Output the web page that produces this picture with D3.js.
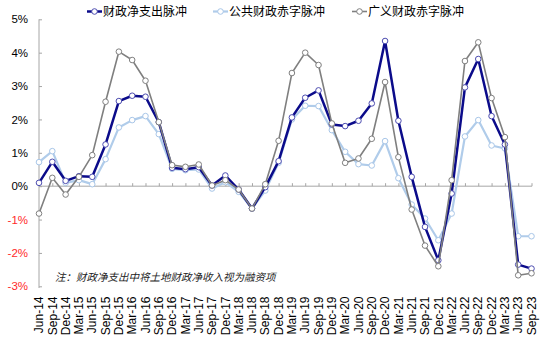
<!DOCTYPE html>
<html><head><meta charset="utf-8">
<script src="https://cdn.jsdelivr.net/npm/d3@7"></script>
<style>
html,body{margin:0;padding:0;background:#fff;}
svg{display:block;}
</style>
</head><body>
<svg id="chart" width="550" height="339"></svg>
<script>
const categories = ["Jun-14","Sep-14","Dec-14","Mar-15","Jun-15","Sep-15","Dec-15","Mar-16","Jun-16","Sep-16","Dec-16","Mar-17","Jun-17","Sep-17","Dec-17","Mar-18","Jun-18","Sep-18","Dec-18","Mar-19","Jun-19","Sep-19","Dec-19","Mar-20","Jun-20","Sep-20","Dec-20","Mar-21","Jun-21","Sep-21","Dec-21","Mar-22","Jun-22","Sep-22","Dec-22","Mar-23","Jun-23","Sep-23"];
const netSpending = [0.10,0.73,0.16,0.30,0.28,1.25,2.55,2.71,2.68,1.92,0.55,0.51,0.57,0.02,0.32,-0.10,-0.67,-0.03,0.75,2.06,2.65,2.87,1.85,1.80,1.96,2.48,4.35,1.96,0.28,-1.22,-2.22,-0.22,2.96,3.81,2.10,1.25,-2.35,-2.47];
const publicDeficit = [0.72,1.05,0.10,0.18,0.06,0.81,1.76,1.98,2.10,1.56,0.52,0.48,0.50,-0.07,0.12,-0.17,-0.67,-0.13,0.70,2.00,2.41,2.40,1.68,1.03,0.66,0.62,1.35,0.24,-0.55,-0.97,-1.62,-0.82,1.49,1.98,1.22,1.13,-1.50,-1.50];
const broadDeficit = [-0.82,0.25,-0.25,0.28,0.93,2.53,4.03,3.78,3.16,1.92,0.63,0.58,0.65,0.02,0.18,-0.10,-0.67,0.06,1.36,3.39,4.00,3.63,1.88,0.70,0.83,1.42,3.12,0.87,-0.70,-1.78,-2.40,0.18,3.75,4.31,2.64,1.47,-2.67,-2.61];
const yTicks = [-3,-2,-1,0,1,2,3,4,5];
const seriesNames = ["财政净支出脉冲","公共财政赤字脉冲","广义财政赤字脉冲"];
const note = "注：财政净支出中将土地财政净收入视为融资项";

const colors = {net:"#0B0B8A", pub:"#B0CCEA", broad:"#7F7F7F"};
const svg = d3.select("#chart");

const x = d3.scalePoint().domain(categories).range([39, 531.5]);
const y = d3.scaleLinear().domain([-3,5]).range([286.3, 19.3]);

// Y axis
const yAxis = svg.append("g").attr("transform","translate(39,0)")
  .call(d3.axisLeft(y).tickValues(yTicks).tickSize(-3).tickSizeOuter(0).tickPadding(11)
    .tickFormat(d => d + "%"));
yAxis.select(".domain").attr("stroke","#A6A6A6").attr("d","M0,19.3V288");
yAxis.selectAll(".tick line").attr("stroke","#A6A6A6");
yAxis.selectAll(".tick text")
  .attr("font-family","Arial, 'Liberation Sans', sans-serif")
  .attr("font-size","11.5px")
  .attr("fill", d => d < 0 ? "#FF2A2A" : "#000");

// X axis at zero
const xAxis = svg.append("g").attr("transform",`translate(0,${y(0)})`)
  .call(d3.axisBottom(x).tickSize(-3).tickSizeOuter(0).tickFormat(""));
xAxis.select(".domain").attr("stroke","#A6A6A6").attr("d", `M39,0H532`);
xAxis.selectAll(".tick line").attr("stroke","#A6A6A6");

// X labels at bottom, rotated
svg.append("g").selectAll("text").data(categories).join("text")
  .attr("transform", d => `translate(${x(d)},296.5) rotate(-90)`)
  .attr("dy","0.35em")
  .attr("text-anchor","end")
  .attr("font-family","Arial, 'Liberation Sans', sans-serif")
  .attr("font-size","12px")
  .attr("fill","#000")
  .text(d => d);

// Note
svg.append("text").attr("x",55).attr("y",280.5)
  .attr("font-family","'Noto Sans CJK SC', sans-serif")
  .attr("font-size","10.5px").attr("font-style","italic")
  .attr("fill","#222")
  .text(note);

function drawSeries(data, color, width, mstroke){
  const line = d3.line().x((d,i)=>x(categories[i])).y(d=>y(d));
  const g = svg.append("g");
  g.append("path").datum(data).attr("d", line)
    .attr("fill","none").attr("stroke",color).attr("stroke-width",width)
    .attr("stroke-linejoin","round");
  g.selectAll("circle").data(data).join("circle")
    .attr("cx",(d,i)=>x(categories[i])).attr("cy",d=>y(d)).attr("r",2.8)
    .attr("fill","#fff").attr("stroke",mstroke).attr("stroke-width",1);
}
drawSeries(publicDeficit, colors.pub, 2.2, "#A8C6E8");
drawSeries(netSpending, colors.net, 2.5, "#4C4CB0");
drawSeries(broadDeficit, colors.broad, 1.6, "#7F7F7F");

// Legend
const legendItems = [
  {name:seriesNames[0], color:colors.net, w:2.5, ms:"#4C4CB0", x:87},
  {name:seriesNames[1], color:colors.pub, w:2.2, ms:"#A8C6E8", x:213},
  {name:seriesNames[2], color:colors.broad, w:1.6, ms:"#7F7F7F", x:352}
];
const lg = svg.append("g");
legendItems.forEach(it => {
  lg.append("line").attr("x1",it.x).attr("x2",it.x+15).attr("y1",11.5).attr("y2",11.5)
    .attr("stroke",it.color).attr("stroke-width",it.w);
  lg.append("circle").attr("cx",it.x+7.5).attr("cy",11.5).attr("r",2.8)
    .attr("fill","#fff").attr("stroke",it.ms).attr("stroke-width",1);
  lg.append("text").attr("x",it.x+16).attr("y",11.5).attr("dy","0.36em")
    .attr("font-family","'Noto Sans CJK SC', sans-serif")
    .attr("font-size","12px").attr("fill","#000")
    .text(it.name);
});
</script>
</body></html>
